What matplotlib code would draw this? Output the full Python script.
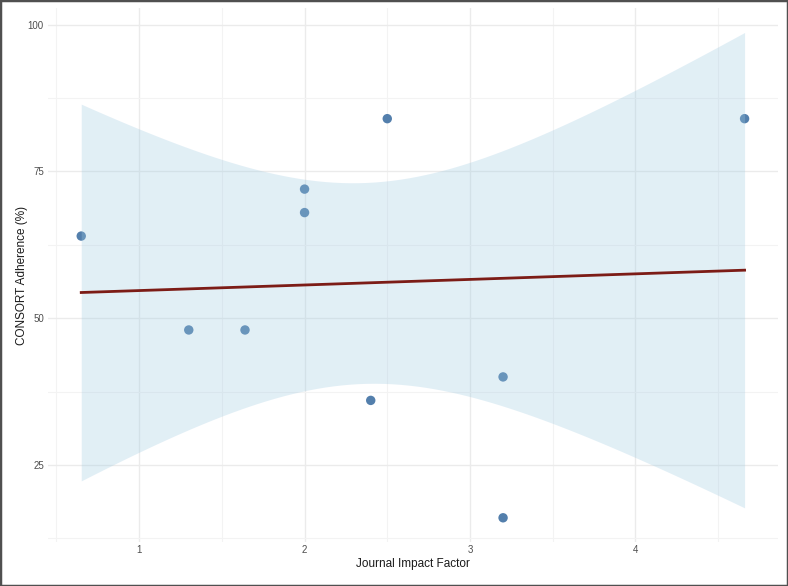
import numpy as np
import matplotlib
matplotlib.use("Agg")
import matplotlib.pyplot as plt
from matplotlib.patches import Rectangle
from matplotlib.ticker import MultipleLocator

# journal impact factor vs CONSORT adherence
impact_factor = [0.65, 1.3, 1.64, 2.0, 2.0, 2.4, 2.5, 3.2, 3.2, 4.66]
adherence = [64, 48, 48, 72, 68, 36, 84, 40, 16, 84]

x_ticks = [1, 2, 3, 4]
y_ticks = [25, 50, 75, 100]

plt.rcParams['font.family'] = ['Liberation Sans', 'DejaVu Sans']

x = np.array(impact_factor)
y = np.array(adherence)

# linear fit with 95% confidence band (like geom_smooth(method="lm"))
slope, intercept = np.polyfit(x, y, 1)
n = len(x)
resid = y - (slope * x + intercept)
s = np.sqrt(np.sum(resid ** 2) / (n - 2))
sxx = np.sum((x - x.mean()) ** 2)
t_crit = 2.306  # t(0.975, df=8)
xs = np.linspace(x.min(), x.max(), 80)
ys = slope * xs + intercept
half = t_crit * s * np.sqrt(1 / n + (xs - x.mean()) ** 2 / sxx)

fig = plt.figure(figsize=(7.88, 5.86), dpi=100)
ax = fig.add_axes([0.061, 0.075, 0.926, 0.911])

ax.scatter(x, y, s=46, color='#4a78a8', alpha=0.95, edgecolors='none', zorder=2)
ax.fill_between(xs, ys - half, ys + half, color='#9ecae1', alpha=0.3, linewidth=0, zorder=3)
ax.plot(xs, ys, color='#7c1c16', linewidth=2.0, zorder=4)

ax.margins(x=0.05, y=0.05)
ax.set_xticks(x_ticks)
ax.set_yticks(y_ticks)
ax.xaxis.set_minor_locator(MultipleLocator(0.5))
ax.yaxis.set_minor_locator(MultipleLocator(12.5))
ax.grid(True, which='major', color='#ebebeb', linewidth=1.0, zorder=0)
ax.grid(True, which='minor', color='#f3f3f3', linewidth=0.8, zorder=0)
ax.set_axisbelow(True)
for sp in ax.spines.values():
    sp.set_visible(False)
ax.tick_params(which='both', length=0, labelsize=7, labelcolor='#4d4d4d')
ax.tick_params(axis='x', pad=2)
ax.tick_params(axis='y', pad=3)

ax.set_xlabel('Journal Impact Factor', fontsize=8.5, color='#1a1a1a', labelpad=2)
ax.set_ylabel('CONSORT Adherence (%)', fontsize=8.5, color='#1a1a1a', labelpad=0)

fig.add_artist(Rectangle((0, 0), 1, 1, transform=fig.transFigure, fill=False,
                         edgecolor='#505050', linewidth=2.5))

fig.savefig('out.png', dpi=100)
